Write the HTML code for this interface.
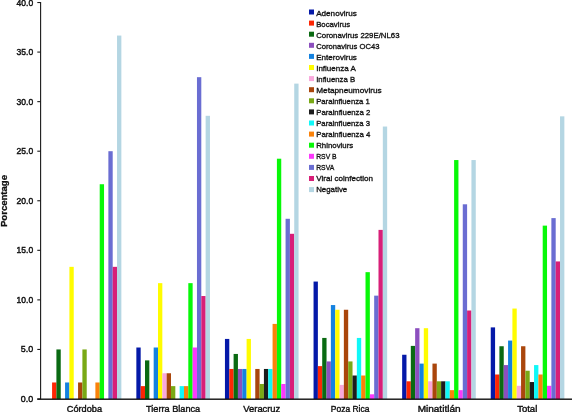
<!DOCTYPE html><html><head><meta charset="utf-8"><style>html,body{margin:0;padding:0;background:#fff;}svg{display:block;will-change:transform;}text{font-family:"Liberation Sans",sans-serif;}</style></head><body>
<svg width="572" height="412" viewBox="0 0 572 412">
<rect width="572" height="412" fill="#fff"/>
<rect x="52.08" y="382.48" width="4.33" height="16.52" fill="#fd2604"/>
<rect x="56.41" y="349.44" width="4.33" height="49.56" fill="#0a6a12"/>
<rect x="65.07" y="382.48" width="4.33" height="16.52" fill="#1482e0"/>
<rect x="69.40" y="266.84" width="4.33" height="132.16" fill="#fffc00"/>
<rect x="78.06" y="382.48" width="4.33" height="16.52" fill="#aa460c"/>
<rect x="82.39" y="349.44" width="4.33" height="49.56" fill="#79a915"/>
<rect x="95.38" y="382.48" width="4.33" height="16.52" fill="#fa820a"/>
<rect x="99.71" y="184.24" width="4.33" height="214.76" fill="#08f808"/>
<rect x="108.37" y="151.20" width="4.33" height="247.80" fill="#6a6dd2"/>
<rect x="112.70" y="266.84" width="4.33" height="132.16" fill="#d81f78"/>
<rect x="117.03" y="35.56" width="4.33" height="363.44" fill="#b4d6e3"/>
<rect x="136.35" y="347.51" width="4.33" height="51.49" fill="#0519a8"/>
<rect x="140.68" y="386.13" width="4.33" height="12.87" fill="#fd2604"/>
<rect x="145.01" y="360.38" width="4.33" height="38.62" fill="#0a6a12"/>
<rect x="153.67" y="347.51" width="4.33" height="51.49" fill="#1482e0"/>
<rect x="158.00" y="283.15" width="4.33" height="115.85" fill="#fffc00"/>
<rect x="162.33" y="373.25" width="4.33" height="25.75" fill="#f9a8dc"/>
<rect x="166.66" y="373.25" width="4.33" height="25.75" fill="#aa460c"/>
<rect x="170.99" y="386.13" width="4.33" height="12.87" fill="#79a915"/>
<rect x="179.65" y="386.13" width="4.33" height="12.87" fill="#10f8f8"/>
<rect x="183.98" y="386.13" width="4.33" height="12.87" fill="#fa820a"/>
<rect x="188.31" y="283.15" width="4.33" height="115.85" fill="#08f808"/>
<rect x="192.64" y="347.51" width="4.33" height="51.49" fill="#fc38fc"/>
<rect x="196.97" y="77.18" width="4.33" height="321.82" fill="#6a6dd2"/>
<rect x="201.30" y="296.02" width="4.33" height="102.98" fill="#d81f78"/>
<rect x="205.63" y="115.80" width="4.33" height="283.20" fill="#b4d6e3"/>
<rect x="224.95" y="338.93" width="4.33" height="60.07" fill="#0519a8"/>
<rect x="229.28" y="368.96" width="4.33" height="30.04" fill="#fd2604"/>
<rect x="233.61" y="353.95" width="4.33" height="45.05" fill="#0a6a12"/>
<rect x="237.94" y="368.96" width="4.33" height="30.04" fill="#8c4fbe"/>
<rect x="242.27" y="368.96" width="4.33" height="30.04" fill="#1482e0"/>
<rect x="246.60" y="338.93" width="4.33" height="60.07" fill="#fffc00"/>
<rect x="255.26" y="368.96" width="4.33" height="30.04" fill="#aa460c"/>
<rect x="259.59" y="383.98" width="4.33" height="15.02" fill="#79a915"/>
<rect x="263.92" y="368.96" width="4.33" height="30.04" fill="#1c1c1c"/>
<rect x="268.25" y="368.96" width="4.33" height="30.04" fill="#10f8f8"/>
<rect x="272.58" y="323.91" width="4.33" height="75.09" fill="#fa820a"/>
<rect x="276.91" y="158.71" width="4.33" height="240.29" fill="#08f808"/>
<rect x="281.24" y="383.98" width="4.33" height="15.02" fill="#fc38fc"/>
<rect x="285.57" y="218.78" width="4.33" height="180.22" fill="#6a6dd2"/>
<rect x="289.90" y="233.80" width="4.33" height="165.20" fill="#d81f78"/>
<rect x="294.23" y="83.62" width="4.33" height="315.38" fill="#b4d6e3"/>
<rect x="313.55" y="281.56" width="4.33" height="117.44" fill="#0519a8"/>
<rect x="317.88" y="366.12" width="4.33" height="32.88" fill="#fd2604"/>
<rect x="322.21" y="337.93" width="4.33" height="61.07" fill="#0a6a12"/>
<rect x="326.54" y="361.42" width="4.33" height="37.58" fill="#8c4fbe"/>
<rect x="330.87" y="305.05" width="4.33" height="93.95" fill="#1482e0"/>
<rect x="335.20" y="309.75" width="4.33" height="89.25" fill="#fffc00"/>
<rect x="339.53" y="384.91" width="4.33" height="14.09" fill="#f9a8dc"/>
<rect x="343.86" y="309.75" width="4.33" height="89.25" fill="#aa460c"/>
<rect x="348.19" y="361.42" width="4.33" height="37.58" fill="#79a915"/>
<rect x="352.52" y="375.51" width="4.33" height="23.49" fill="#1c1c1c"/>
<rect x="356.85" y="337.93" width="4.33" height="61.07" fill="#10f8f8"/>
<rect x="361.18" y="375.51" width="4.33" height="23.49" fill="#fa820a"/>
<rect x="365.51" y="272.16" width="4.33" height="126.84" fill="#08f808"/>
<rect x="369.84" y="394.30" width="4.33" height="4.70" fill="#fc38fc"/>
<rect x="374.17" y="295.65" width="4.33" height="103.35" fill="#6a6dd2"/>
<rect x="378.50" y="229.89" width="4.33" height="169.11" fill="#d81f78"/>
<rect x="382.83" y="126.54" width="4.33" height="272.46" fill="#b4d6e3"/>
<rect x="402.15" y="354.75" width="4.33" height="44.25" fill="#0519a8"/>
<rect x="406.48" y="381.30" width="4.33" height="17.70" fill="#fd2604"/>
<rect x="410.81" y="345.90" width="4.33" height="53.10" fill="#0a6a12"/>
<rect x="415.14" y="328.20" width="4.33" height="70.80" fill="#8c4fbe"/>
<rect x="419.47" y="363.60" width="4.33" height="35.40" fill="#1482e0"/>
<rect x="423.80" y="328.20" width="4.33" height="70.80" fill="#fffc00"/>
<rect x="428.13" y="381.30" width="4.33" height="17.70" fill="#f9a8dc"/>
<rect x="432.46" y="363.60" width="4.33" height="35.40" fill="#aa460c"/>
<rect x="436.79" y="381.30" width="4.33" height="17.70" fill="#79a915"/>
<rect x="441.12" y="381.30" width="4.33" height="17.70" fill="#1c1c1c"/>
<rect x="445.45" y="381.30" width="4.33" height="17.70" fill="#10f8f8"/>
<rect x="449.78" y="390.15" width="4.33" height="8.85" fill="#fa820a"/>
<rect x="454.11" y="160.05" width="4.33" height="238.95" fill="#08f808"/>
<rect x="458.44" y="390.15" width="4.33" height="8.85" fill="#fc38fc"/>
<rect x="462.77" y="204.30" width="4.33" height="194.70" fill="#6a6dd2"/>
<rect x="467.10" y="310.50" width="4.33" height="88.50" fill="#d81f78"/>
<rect x="471.43" y="160.05" width="4.33" height="238.95" fill="#b4d6e3"/>
<rect x="490.75" y="327.39" width="4.33" height="71.61" fill="#0519a8"/>
<rect x="495.08" y="374.50" width="4.33" height="24.50" fill="#fd2604"/>
<rect x="499.41" y="346.24" width="4.33" height="52.76" fill="#0a6a12"/>
<rect x="503.74" y="365.08" width="4.33" height="33.92" fill="#8c4fbe"/>
<rect x="508.07" y="340.58" width="4.33" height="58.42" fill="#1482e0"/>
<rect x="512.40" y="308.55" width="4.33" height="90.45" fill="#fffc00"/>
<rect x="516.73" y="385.81" width="4.33" height="13.19" fill="#f9a8dc"/>
<rect x="521.06" y="346.24" width="4.33" height="52.76" fill="#aa460c"/>
<rect x="525.39" y="370.73" width="4.33" height="28.27" fill="#79a915"/>
<rect x="529.72" y="382.04" width="4.33" height="16.96" fill="#1c1c1c"/>
<rect x="534.05" y="365.08" width="4.33" height="33.92" fill="#10f8f8"/>
<rect x="538.38" y="374.50" width="4.33" height="24.50" fill="#fa820a"/>
<rect x="542.71" y="225.63" width="4.33" height="173.37" fill="#08f808"/>
<rect x="547.04" y="385.81" width="4.33" height="13.19" fill="#fc38fc"/>
<rect x="551.37" y="218.10" width="4.33" height="180.90" fill="#6a6dd2"/>
<rect x="555.70" y="261.44" width="4.33" height="137.56" fill="#d81f78"/>
<rect x="560.03" y="116.34" width="4.33" height="282.66" fill="#b4d6e3"/>
<g stroke="#1a1a1a" stroke-width="1.1" fill="none">
<line x1="40.6" y1="2" x2="40.6" y2="399.0"/>
<line x1="37.3" y1="399.00" x2="40.5" y2="399.00"/>
<line x1="37.3" y1="349.44" x2="40.5" y2="349.44"/>
<line x1="37.3" y1="299.88" x2="40.5" y2="299.88"/>
<line x1="37.3" y1="250.32" x2="40.5" y2="250.32"/>
<line x1="37.3" y1="200.76" x2="40.5" y2="200.76"/>
<line x1="37.3" y1="151.20" x2="40.5" y2="151.20"/>
<line x1="37.3" y1="101.64" x2="40.5" y2="101.64"/>
<line x1="37.3" y1="52.08" x2="40.5" y2="52.08"/>
<line x1="37.3" y1="2.52" x2="40.5" y2="2.52"/>
</g>
<rect x="37.3" y="398.5" width="534.7" height="1.4" fill="#111"/>
<text x="33.2" y="402.00" font-size="9.4" text-anchor="end" fill="#111" stroke="#111" stroke-width="0.45" textLength="12.4" lengthAdjust="spacingAndGlyphs">0.0</text>
<text x="33.2" y="352.44" font-size="9.4" text-anchor="end" fill="#111" stroke="#111" stroke-width="0.45" textLength="12.4" lengthAdjust="spacingAndGlyphs">5.0</text>
<text x="33.2" y="302.88" font-size="9.4" text-anchor="end" fill="#111" stroke="#111" stroke-width="0.45" textLength="16.6" lengthAdjust="spacingAndGlyphs">10.0</text>
<text x="33.2" y="253.32" font-size="9.4" text-anchor="end" fill="#111" stroke="#111" stroke-width="0.45" textLength="16.6" lengthAdjust="spacingAndGlyphs">15.0</text>
<text x="33.2" y="203.76" font-size="9.4" text-anchor="end" fill="#111" stroke="#111" stroke-width="0.45" textLength="16.6" lengthAdjust="spacingAndGlyphs">20.0</text>
<text x="33.2" y="154.20" font-size="9.4" text-anchor="end" fill="#111" stroke="#111" stroke-width="0.45" textLength="16.6" lengthAdjust="spacingAndGlyphs">25.0</text>
<text x="33.2" y="104.64" font-size="9.4" text-anchor="end" fill="#111" stroke="#111" stroke-width="0.45" textLength="16.6" lengthAdjust="spacingAndGlyphs">30.0</text>
<text x="33.2" y="55.08" font-size="9.4" text-anchor="end" fill="#111" stroke="#111" stroke-width="0.45" textLength="16.6" lengthAdjust="spacingAndGlyphs">35.0</text>
<text x="33.2" y="5.52" font-size="9.4" text-anchor="end" fill="#111" stroke="#111" stroke-width="0.45" textLength="16.6" lengthAdjust="spacingAndGlyphs">40.0</text>
<text transform="translate(7.4,201) rotate(-90)" font-size="9.8" font-weight="bold" text-anchor="middle" fill="#111" stroke="#111" stroke-width="0.3" textLength="52" lengthAdjust="spacingAndGlyphs">Porcentage</text>
<text x="84.4" y="411.8" font-size="9.6" text-anchor="middle" fill="#111" stroke="#111" stroke-width="0.4" textLength="35.2" lengthAdjust="spacingAndGlyphs">Córdoba</text>
<text x="173.1" y="411.8" font-size="9.6" text-anchor="middle" fill="#111" stroke="#111" stroke-width="0.4" textLength="54.1" lengthAdjust="spacingAndGlyphs">Tierra Blanca</text>
<text x="261.8" y="411.8" font-size="9.6" text-anchor="middle" fill="#111" stroke="#111" stroke-width="0.4" textLength="36.9" lengthAdjust="spacingAndGlyphs">Veracruz</text>
<text x="350.1" y="411.8" font-size="9.6" text-anchor="middle" fill="#111" stroke="#111" stroke-width="0.4" textLength="38.6" lengthAdjust="spacingAndGlyphs">Poza Rica</text>
<text x="439.1" y="411.8" font-size="9.6" text-anchor="middle" fill="#111" stroke="#111" stroke-width="0.4" textLength="42.9" lengthAdjust="spacingAndGlyphs">Minatitlán</text>
<text x="527.2" y="411.8" font-size="9.6" text-anchor="middle" fill="#111" stroke="#111" stroke-width="0.4" textLength="20.1" lengthAdjust="spacingAndGlyphs">Total</text>
<rect x="309" y="9.50" width="5" height="5" fill="#0519a8"/>
<text x="316.2" y="15.50" font-size="7.9" fill="#111" stroke="#111" stroke-width="0.32" textLength="40.6" lengthAdjust="spacingAndGlyphs">Adenovirus</text>
<rect x="309" y="20.60" width="5" height="5" fill="#fd2604"/>
<text x="316.2" y="26.56" font-size="7.9" fill="#111" stroke="#111" stroke-width="0.32" textLength="34.0" lengthAdjust="spacingAndGlyphs">Bocavirus</text>
<rect x="309" y="31.70" width="5" height="5" fill="#0a6a12"/>
<text x="316.2" y="37.62" font-size="7.9" fill="#111" stroke="#111" stroke-width="0.32" textLength="83.3" lengthAdjust="spacingAndGlyphs">Coronavirus 229E/NL63</text>
<rect x="309" y="42.80" width="5" height="5" fill="#8c4fbe"/>
<text x="316.2" y="48.68" font-size="7.9" fill="#111" stroke="#111" stroke-width="0.32" textLength="63.4" lengthAdjust="spacingAndGlyphs">Coronavirus OC43</text>
<rect x="309" y="53.90" width="5" height="5" fill="#1482e0"/>
<text x="316.2" y="59.74" font-size="7.9" fill="#111" stroke="#111" stroke-width="0.32" textLength="40.7" lengthAdjust="spacingAndGlyphs">Enterovirus</text>
<rect x="309" y="65.00" width="5" height="5" fill="#fffc00"/>
<text x="316.2" y="70.80" font-size="7.9" fill="#111" stroke="#111" stroke-width="0.32" textLength="39.6" lengthAdjust="spacingAndGlyphs">Influenza A</text>
<rect x="309" y="76.10" width="5" height="5" fill="#f9a8dc"/>
<text x="316.2" y="81.86" font-size="7.9" fill="#111" stroke="#111" stroke-width="0.32" textLength="38.9" lengthAdjust="spacingAndGlyphs">Influenza B</text>
<rect x="309" y="87.20" width="5" height="5" fill="#aa460c"/>
<text x="316.2" y="92.92" font-size="7.9" fill="#111" stroke="#111" stroke-width="0.32" textLength="65.5" lengthAdjust="spacingAndGlyphs">Metapneumovirus</text>
<rect x="309" y="98.30" width="5" height="5" fill="#79a915"/>
<text x="316.2" y="103.98" font-size="7.9" fill="#111" stroke="#111" stroke-width="0.32" textLength="53.6" lengthAdjust="spacingAndGlyphs">Parainfluenza 1</text>
<rect x="309" y="109.40" width="5" height="5" fill="#1c1c1c"/>
<text x="316.2" y="115.04" font-size="7.9" fill="#111" stroke="#111" stroke-width="0.32" textLength="54.1" lengthAdjust="spacingAndGlyphs">Parainfluenza 2</text>
<rect x="309" y="120.50" width="5" height="5" fill="#10f8f8"/>
<text x="316.2" y="126.10" font-size="7.9" fill="#111" stroke="#111" stroke-width="0.32" textLength="53.8" lengthAdjust="spacingAndGlyphs">Parainfluenza 3</text>
<rect x="309" y="131.60" width="5" height="5" fill="#fa820a"/>
<text x="316.2" y="137.16" font-size="7.9" fill="#111" stroke="#111" stroke-width="0.32" textLength="54.1" lengthAdjust="spacingAndGlyphs">Parainfluenza 4</text>
<rect x="309" y="142.70" width="5" height="5" fill="#08f808"/>
<text x="316.2" y="148.22" font-size="7.9" fill="#111" stroke="#111" stroke-width="0.32" textLength="37.0" lengthAdjust="spacingAndGlyphs">Rhinoviurs</text>
<rect x="309" y="153.80" width="5" height="5" fill="#fc38fc"/>
<text x="316.2" y="159.28" font-size="7.9" fill="#111" stroke="#111" stroke-width="0.32" textLength="20.4" lengthAdjust="spacingAndGlyphs">RSV B</text>
<rect x="309" y="164.90" width="5" height="5" fill="#6a6dd2"/>
<text x="316.2" y="170.34" font-size="7.9" fill="#111" stroke="#111" stroke-width="0.32" textLength="18.0" lengthAdjust="spacingAndGlyphs">RSVA</text>
<rect x="309" y="176.00" width="5" height="5" fill="#d81f78"/>
<text x="316.2" y="181.40" font-size="7.9" fill="#111" stroke="#111" stroke-width="0.32" textLength="56.8" lengthAdjust="spacingAndGlyphs">Viral coinfection</text>
<rect x="309" y="187.10" width="5" height="5" fill="#b4d6e3"/>
<text x="316.2" y="192.46" font-size="7.9" fill="#111" stroke="#111" stroke-width="0.32" textLength="31.0" lengthAdjust="spacingAndGlyphs">Negative</text>
</svg></body></html>
